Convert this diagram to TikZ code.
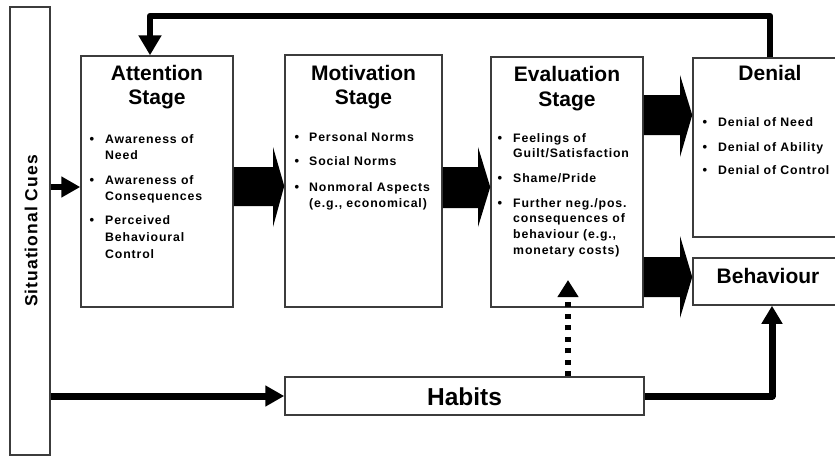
\documentclass[tikz,border=0pt]{standalone}
\usepackage{fontspec}
\setmainfont{Liberation Sans}
\newfontfamily\bodyf{Liberation Sans}[LetterSpace=7]
\newfontfamily\cuef{Liberation Sans}[LetterSpace=6]
\usetikzlibrary{arrows.meta}
\definecolor{boxline}{HTML}{3C3C3C}
\tikzset{
  box/.style={draw=boxline, line width=1.5pt, fill=white, rectangle, inner sep=0pt},
  ttl/.style={font=\fontsize{21}{21}\selectfont\bfseries, anchor=base, inner sep=0pt},
  itm/.style={font=\bodyf\fontsize{12.3}{12.3}\selectfont\bfseries, anchor=base west, inner sep=0pt},
  bul/.style={font=\fontsize{13}{13}\selectfont\bfseries, anchor=base, inner sep=0pt},
  flow/.style={line width=6.5pt, line join=round},
  blk/.style={fill=black, draw=none},
}
\begin{document}
\begin{tikzpicture}[x=1pt,y=-1pt]
\useasboundingbox (0,0) rectangle (835,456);

% boxes
\node[box, minimum width=40pt, minimum height=448pt] (sit) at (30,231) {};
\node[box, minimum width=152pt, minimum height=251pt] (att) at (157,181.5) {};
\node[box, minimum width=157pt, minimum height=252pt] (mot) at (363.5,181) {};
\node[box, minimum width=152pt, minimum height=250pt] (eva) at (567,182) {};
\node[box, minimum width=150pt, minimum height=179pt] (den) at (768,147.5) {};
\node[box, minimum width=150pt, minimum height=47pt] (beh) at (768,281.5) {};
\node[box, minimum width=359pt, minimum height=38pt] (hab) at (464.5,396) {};

% situational cues label
\node[font=\cuef\fontsize{17.5}{17.5}\selectfont\bfseries, rotate=90, inner sep=0pt] (sitt) at (31,231) {Situational Cues};

% titles
\node[ttl] (att1) at (157,80) {Attention};
\node[ttl] (att2) at (157,104) {Stage};
\node[ttl] (mot1) at (363.5,80) {Motivation};
\node[ttl] (mot2) at (363.5,104) {Stage};
\node[ttl] (eva1) at (567,81) {Evaluation};
\node[ttl] (eva2) at (567,106.5) {Stage};
\node[ttl] (den1) at (770,80) {Denial};
\node[ttl] (beh1) at (768,283) {Behaviour};
\node[font=\fontsize{24.5}{24.5}\selectfont\bfseries, anchor=base, inner sep=0pt] (hab1) at (464.5,405) {Habits};

% attention items
\node[bul] (ab1) at (92,143.5) {•};
\node[itm] (a1) at (105,143.5) {Awareness of};
\node[itm] (a2) at (105,159.5) {Need};
\node[bul] (ab2) at (92,184.5) {•};
\node[itm] (a3) at (105,184.5) {Awareness of};
\node[itm] (a4) at (105,200) {Consequences};
\node[bul] (ab3) at (92,224.5) {•};
\node[itm] (a5) at (105,224.5) {Perceived};
\node[itm] (a6) at (105,241.5) {Behavioural};
\node[itm] (a7) at (105,258.5) {Control};

% motivation items
\node[bul] (mb1) at (297,141.5) {•};
\node[itm] (m1) at (309,141.5) {Personal Norms};
\node[bul] (mb2) at (297,165.5) {•};
\node[itm] (m2) at (309,165.5) {Social Norms};
\node[bul] (mb3) at (297,191.5) {•};
\node[itm] (m3) at (309,191.5) {Nonmoral Aspects};
\node[itm] (m4) at (309,207.5) {(e.g., economical)};

% evaluation items
\node[bul] (eb1) at (500,142.5) {•};
\node[itm] (e1) at (513,142.5) {Feelings of};
\node[itm] (e2) at (513,157.5) {Guilt/Satisfaction};
\node[bul] (eb2) at (500,182.5) {•};
\node[itm] (e3) at (513,182.5) {Shame/Pride};
\node[bul] (eb3) at (500,207.5) {•};
\node[itm] (e4) at (513,207.5) {Further neg./pos.};
\node[itm] (e5) at (513,222.5) {consequences of};
\node[itm] (e6) at (513,238) {behaviour (e.g.,};
\node[itm] (e7) at (513,254.5) {monetary costs)};

% denial items
\node[bul] (db1) at (705,126.5) {•};
\node[itm] (d1) at (718,126.5) {Denial of Need};
\node[bul] (db2) at (705,151.5) {•};
\node[itm] (d2) at (718,151.5) {Denial of Ability};
\node[bul] (db3) at (705,174.5) {•};
\node[itm] (d3) at (718,174.5) {Denial of Control};

% block arrows
\fill[blk] (att.east |- 0,167) -- (273,167) -- (273,147) -- (mot.west |- 0,186) -- (273,227) -- (273,206) -- (att.east |- 0,206) -- cycle;
\fill[blk] (mot.east |- 0,167) -- (478,167) -- (478,147) -- (eva.west |- 0,187) -- (478,227) -- (478,208) -- (mot.east |- 0,208) -- cycle;
\fill[blk] (eva.east |- 0,95) -- (680,95) -- (680,75) -- (den.west |- 0,115) -- (680,157) -- (680,135) -- (eva.east |- 0,135) -- cycle;
\fill[blk] (eva.east |- 0,257) -- (680,257) -- (680,236) -- (beh.west |- 0,277) -- (680,318) -- (680,297) -- (eva.east |- 0,297) -- cycle;

% connectors
\coordinate (fbr) at (770,16);
\coordinate (fbl) at (150,16);
\draw[flow, -{Triangle[width=22pt,length=20pt]}] (den.north -| fbr) -- (fbr) -- (fbl) -- (att.north -| fbl);
\draw[flow, -{Triangle[width=20pt,length=19pt]}] (sit.east |- 0,187) -- (att.west |- 0,187);
\draw[flow, line width=7pt, -{Triangle[width=20pt,length=19pt]}] (sit.east |- 0,396) -- (hab.west |- 0,396);
\coordinate (hbr) at (772,396);
\draw[flow, line width=7pt, -{Triangle[width=20pt,length=18pt]}] (hab.east |- hbr) -- (hbr) -- (beh.south -| hbr);
\coordinate (evtip) at (568,280);
\draw[line width=5.5pt, dash pattern=on 5pt off 6.5pt, -{Triangle[width=20pt,length=17pt]}] (hab.north -| evtip) -- (evtip);
\end{tikzpicture}
\end{document}
